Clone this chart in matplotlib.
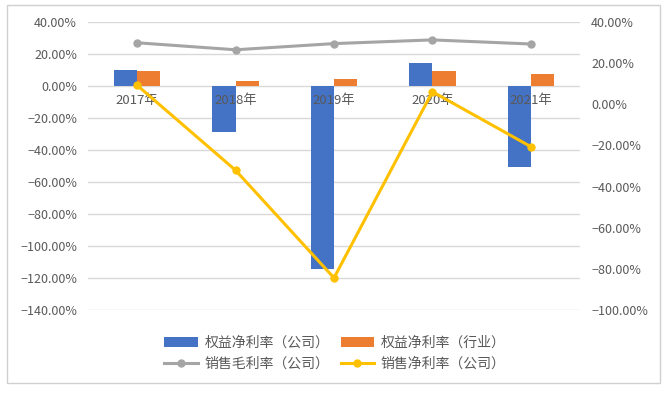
import matplotlib
matplotlib.use("Agg")
import matplotlib.pyplot as plt
import numpy as np
from matplotlib.patches import Rectangle
from matplotlib.ticker import PercentFormatter

plt.rcParams['font.family'] = ['Noto Sans CJK SC', 'DejaVu Sans']

years = ['2017年', '2018年', '2019年', '2020年', '2021年']
roe_company = [10.0, -28.8, -114.4, 14.4, -50.6]
roe_industry = [9.4, 3.0, 4.4, 9.6, 7.5]
gross_margin = [29.9, 26.5, 29.5, 31.3, 29.3]
net_margin = [9.2, -32.1, -84.4, 6.1, -20.6]

txt = '#595959'
grid = '#d9d9d9'

fig = plt.figure(figsize=(6.65, 3.94), dpi=100)
fig.patches.append(Rectangle((7 / 665, 1 - 383 / 394), 653 / 665, 378 / 394,
                             transform=fig.transFigure, fill=False,
                             edgecolor='#d0d0d0', linewidth=1))

ax = fig.add_axes([88 / 665, 1 - 310 / 394, 492 / 665, 288 / 394])
x = np.arange(len(years))
w = 0.235
b1 = ax.bar(x - w / 2, roe_company, w, color='#4472C4', label='权益净利率（公司）', zorder=2)
b2 = ax.bar(x + w / 2, roe_industry, w, color='#ED7D31', label='权益净利率（行业）', zorder=2)
ax.set_xlim(-0.5, len(years) - 0.5)
ax.set_ylim(-140, 40)
ax.set_yticks(np.arange(-140, 41, 20))
ax.yaxis.set_major_formatter(PercentFormatter(decimals=2))
ax.grid(axis='y', color=grid, linewidth=1, zorder=0)
for s in ax.spines.values():
    s.set_visible(False)
ax.spines['bottom'].set_position(('data', 0))
ax.set_xticks(x)
ax.set_xticklabels(years)
ax.xaxis.set_zorder(5)
ax.tick_params(axis='x', length=0, pad=6, labelsize=9.5, colors=txt)
ax.tick_params(axis='y', length=0, pad=8, labelsize=9, colors=txt)

ax2 = ax.twinx()
ax2.set_ylim(-100, 40)
ax2.set_yticks(np.arange(-100, 41, 20))
ax2.yaxis.set_major_formatter(PercentFormatter(decimals=2))
for s in ax2.spines.values():
    s.set_visible(False)
ax2.tick_params(axis='y', length=0, pad=8, labelsize=9, colors=txt)
l1, = ax2.plot(x, gross_margin, color='#A5A5A5', linewidth=2.2, marker='o',
               markersize=5, label='销售毛利率（公司）', zorder=3)
l2, = ax2.plot(x, net_margin, color='#FFC000', linewidth=2.2, marker='o',
               markersize=5, label='销售净利率（公司）', zorder=3)

handles = [b1, l1, b2, l2]
fig.legend(handles=handles, labels=[h.get_label() for h in handles],
           loc='center', bbox_to_anchor=(335 / 665, 1 - 353 / 394), ncol=2,
           frameon=False, fontsize=10, labelcolor=txt, handlelength=2.4,
           columnspacing=0.8, handletextpad=0.5, labelspacing=0.5)

fig.savefig('out.png', dpi=100)
